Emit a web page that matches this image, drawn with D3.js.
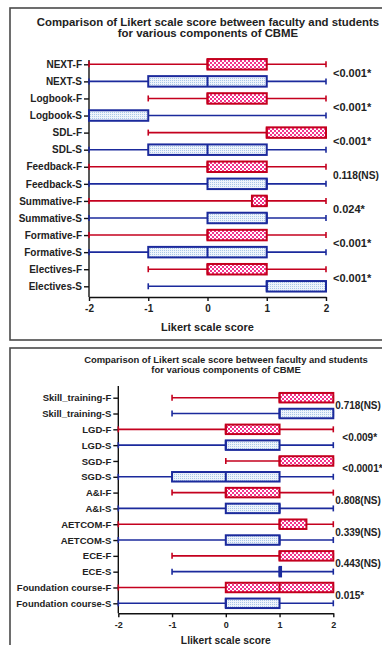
<!DOCTYPE html>
<meta charset="utf-8">
<style>
body { margin: 0; background: #fff; }
svg { display: block; font-family: "Liberation Sans", Arial, sans-serif; }
.axis text { font-weight: bold; fill: #222; }
.axis path, .axis line { stroke: #111; stroke-width: 1.4; }
</style>
<svg width="382" height="645"></svg>
<script src="https://d3js.org/d3.v7.min.js"></script>
<script>

// top panel
var cats1 = ["NEXT-F", "NEXT-S", "Logbook-F", "Logbook-S", "SDL-F", "SDL-S", "Feedback-F", "Feedback-S",
             "Summative-F", "Summative-S", "Formative-F", "Formative-S", "Electives-F", "Electives-S"];
var min1 = [-2, -2, -1, -2, -1, -2, -2, -2, -2, -2, -2, -2, -1, -1];
var q1_1 = [0, -1, 0, -2, 1, -1, 0, 0, 0.75, 0, 0, -1, 0, 1];
var med1 = [0, 0, 0, -2, 1, 0, 0, 1, 1, 1, 0, 0, 0, 1];
var q3_1 = [1, 1, 1, -1, 2, 1, 1, 1, 1, 1, 1, 1, 1, 2];
var max1 = [2, 2, 2, 2, 2, 2, 2, 2, 2, 2, 2, 2, 2, 2];
var pvals1 = ["<0.001*", "<0.001*", "<0.001*", "0.118(NS)", "0.024*", "<0.001*", "<0.001*"];

// bottom panel
var cats2 = ["Skill_training-F", "Skill_training-S", "LGD-F", "LGD-S", "SGD-F", "SGD-S", "A&I-F", "A&I-S",
             "AETCOM-F", "AETCOM-S", "ECE-F", "ECE-S", "Foundation course-F", "Foundation course-S"];
var min2 = [-1, -1, -2, -2, 0, -2, -1, -2, -2, -2, -1, -1, -2, -2];
var q1_2 = [1, 1, 0, 0, 1, -1, 0, 0, 1, 0, 1, 1, 0, 0];
var med2 = [1, 1, 0, 0, 1, 0, 0, 1, 1, 1, 1, 1, 1, 0];
var q3_2 = [2, 2, 1, 1, 2, 1, 1, 1, 1.5, 1, 2, 1, 2, 1];
var max2 = [2, 2, 2, 2, 2, 2, 2, 2, 2, 2, 2, 2, 2, 2];
var pvals2 = ["0.718(NS)", "<0.009*", "<0.0001*", "0.808(NS)", "0.339(NS)", "0.443(NS)", "0.015*"];

var xTicks = [-2, -1, 0, 1, 2];
var titleLines = ["Comparison of Likert scale score between faculty and students",
                  "for various components of CBME"];

var red = "#c4001e", blue = "#1b2a9c";

var svg = d3.select("svg");
var defs = svg.append("defs");

var pr = defs.append("pattern").attr("id", "check").attr("patternUnits", "userSpaceOnUse")
    .attr("width", 4).attr("height", 4);
pr.append("rect").attr("width", 4).attr("height", 4).attr("fill", "#fff");
pr.append("rect").attr("width", 2).attr("height", 2).attr("fill", "#f2348c");
pr.append("rect").attr("x", 2).attr("y", 2).attr("width", 2).attr("height", 2).attr("fill", "#f2348c");

var pb = defs.append("pattern").attr("id", "dots").attr("patternUnits", "userSpaceOnUse")
    .attr("width", 2).attr("height", 2);
pb.append("rect").attr("width", 2).attr("height", 2).attr("fill", "#eef4fb");
pb.append("rect").attr("width", 1).attr("height", 1).attr("fill", "#a9c8e8");

function rows(cats, mn, q1, md, q3, mx) {
  return cats.map(function(c, i) {
    return {cat: c, min: mn[i], q1: q1[i], med: md[i], q3: q3[i], max: mx[i], f: i % 2 === 0};
  });
}

function panel(o) {
  var data = rows(o.cats, o.min, o.q1, o.med, o.q3, o.max);

  svg.append("rect")
      .attr("x", o.frame[0]).attr("y", o.frame[1])
      .attr("width", o.frame[2]).attr("height", o.frame[3])
      .attr("fill", "none").attr("stroke", "#4a4a4a").attr("stroke-width", 1.6);

  titleLines.forEach(function(t, i) {
    svg.append("text")
        .attr("x", o.titleX).attr("y", o.titleY + i * o.titleGap)
        .attr("text-anchor", "middle")
        .attr("font-weight", "bold").attr("font-size", o.titleSize)
        .attr("fill", "#222")
        .text(t);
  });

  var x = d3.scaleLinear().domain([-2, 2]).range([o.x0, o.x1]);
  var y = d3.scalePoint().domain(o.cats).range([o.yFirst, o.yLast]);

  var ya = svg.append("g").attr("class", "axis")
      .attr("transform", "translate(" + o.x0 + ",0)")
      .call(d3.axisLeft(y).tickSize(5).tickSizeOuter(0).tickPadding(2));
  ya.select(".domain").remove();
  ya.selectAll("text").attr("font-size", o.labelSize);
  ya.append("line").attr("x1", 0).attr("x2", 0).attr("y1", o.yTop).attr("y2", o.xAxisY)
      .attr("stroke", "#111").attr("stroke-width", 1.4);

  var xa = svg.append("g").attr("class", "axis")
      .attr("transform", "translate(0," + o.xAxisY + ")")
      .call(d3.axisBottom(x).tickValues(xTicks).tickSize(4).tickSizeOuter(0)
        .tickFormat(function(d) { return String(d); }).tickPadding(4));
  xa.selectAll("text").attr("font-size", o.tickSize);

  svg.append("text")
      .attr("x", x(0)).attr("y", o.xTitleY)
      .attr("text-anchor", "middle")
      .attr("font-weight", "bold").attr("font-size", o.xTitleSize)
      .attr("fill", "#222")
      .text(o.xTitle);

  var bh = o.boxH;
  var g = svg.append("g").selectAll("g").data(data).enter().append("g");

  g.append("line")
      .attr("x1", function(d) { return x(d.min); })
      .attr("x2", function(d) { return x(d.max); })
      .attr("y1", function(d) { return y(d.cat); })
      .attr("y2", function(d) { return y(d.cat); })
      .attr("stroke", function(d) { return d.f ? red : blue; })
      .attr("stroke-width", 1.6);

  ["min", "max"].forEach(function(k) {
    g.append("line")
        .attr("x1", function(d) { return x(d[k]); })
        .attr("x2", function(d) { return x(d[k]); })
        .attr("y1", function(d) { return y(d.cat) - 3; })
        .attr("y2", function(d) { return y(d.cat) + 3; })
        .attr("stroke", function(d) { return d.f ? red : blue; })
        .attr("stroke-width", 1.6);
  });

  g.append("rect")
      .attr("x", function(d) { return x(d.q1); })
      .attr("y", function(d) { return y(d.cat) - bh / 2; })
      .attr("width", function(d) { return Math.max(x(d.q3) - x(d.q1), 1.5); })
      .attr("height", bh)
      .attr("fill", function(d) { return d.f ? "url(#check)" : "url(#dots)"; })
      .attr("stroke", function(d) { return d.f ? red : blue; })
      .attr("stroke-width", 2);

  g.append("line")
      .attr("x1", function(d) { return x(d.med); })
      .attr("x2", function(d) { return x(d.med); })
      .attr("y1", function(d) { return y(d.cat) - bh / 2; })
      .attr("y2", function(d) { return y(d.cat) + bh / 2; })
      .attr("stroke", function(d) { return d.f ? red : blue; })
      .attr("stroke-width", 2);

  o.pvals.forEach(function(p, i) {
    var ym = (y(o.cats[2 * i]) + y(o.cats[2 * i + 1])) / 2;
    var big = p.length > 8;
    svg.append("text")
        .attr("x", x(2) + o.pOff + (p.charAt(0) === "<" ? o.pLtOff : 0))
        .attr("y", ym)
        .attr("dy", "0.35em")
        .attr("font-weight", "bold").attr("font-size", big ? o.pSizeLong : o.pSize)
        .attr("fill", "#222")
        .text(p);
  });
}

panel({
  cats: cats1, min: min1, q1: q1_1, med: med1, q3: q3_1, max: max1, pvals: pvals1,
  frame: [10, 8, 390, 332],
  titleX: 208, titleY: 26, titleGap: 11, titleSize: 11.4,
  x0: 89, x1: 326, yFirst: 64.3, yLast: 286.3, yTop: 60, xAxisY: 297,
  labelSize: 10, tickSize: 10, boxH: 10.5,
  xTitle: "Likert scale score", xTitleY: 331, xTitleSize: 11,
  pOff: 7, pLtOff: 0, pSize: 11, pSizeLong: 10.2
});

panel({
  cats: cats2, min: min2, q1: q1_2, med: med2, q3: q3_2, max: max2, pvals: pvals2,
  frame: [10, 348, 390, 320],
  titleX: 226, titleY: 362.5, titleGap: 10.5, titleSize: 9.45,
  x0: 118.3, x1: 333.3, yFirst: 397.7, yLast: 603.3, yTop: 386, xAxisY: 613.3,
  labelSize: 9.5, tickSize: 9, boxH: 9.5,
  xTitle: "Llikert scale score", xTitleY: 643.5, xTitleSize: 10.3,
  pOff: 2, pLtOff: 7, pSize: 10, pSizeLong: 10
});

</script>
